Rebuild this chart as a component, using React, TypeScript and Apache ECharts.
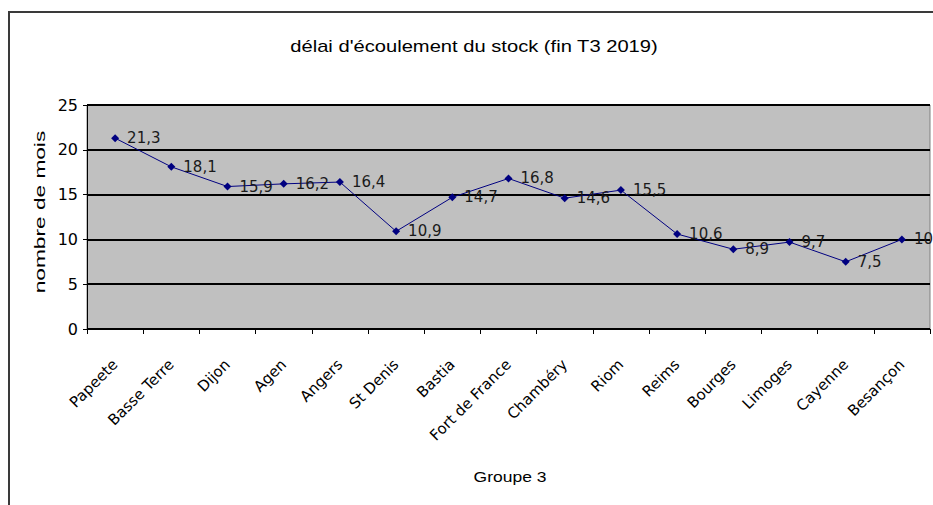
import React, { useEffect, useRef } from "react";
import * as echarts from "echarts";

const titleText = "délai d'écoulement du stock (fin T3 2019)";
const xAxisTitle = "Groupe 3";
const yAxisTitle = "nombre de mois";
const categories = [
  "Papeete", "Basse Terre", "Dijon", "Agen", "Angers", "St Denis", "Bastia",
  "Fort de France", "Chambéry", "Riom", "Reims", "Bourges", "Limoges", "Cayenne", "Besançon",
];
const values = [21.3, 18.1, 15.9, 16.2, 16.4, 10.9, 14.7, 16.8, 14.6, 15.5, 10.6, 8.9, 9.7, 7.5, 10];
const yTicks = [0, 5, 10, 15, 20, 25];

const FONT = "'Liberation Sans', Arial, sans-serif";
const WIDE = "'DejaVu Sans', sans-serif";

export default function App() {
  const ref = useRef<HTMLDivElement>(null);
  useEffect(() => {
    if (!ref.current) return;
    const chart = echarts.init(ref.current, null, { renderer: "svg" });
    chart.setOption({
      animation: false,
      backgroundColor: "#ffffff",
      textStyle: { fontFamily: WIDE },
      grid: { left: 87, right: 3, top: 105, bottom: 176, show: true, backgroundColor: "#c0c0c0", borderColor: "#808080", borderWidth: 1 },
      graphic: [
        { type: "rect", shape: { x: 9, y: 12, width: 960, height: 520 }, style: { fill: "none", stroke: "#3a3a3a", lineWidth: 2 }, silent: true },
        { type: "text", x: 474, y: 47, scaleX: 1.26, style: { text: titleText, font: `16px ${FONT}`, fill: "#000", textAlign: "center", textVerticalAlign: "middle" } },
        { type: "text", x: 510, y: 477, scaleX: 1.25, style: { text: xAxisTitle, font: `14px ${FONT}`, fill: "#000", textAlign: "center", textVerticalAlign: "middle" } },
        { type: "text", x: 40, y: 212, rotation: Math.PI / 2, scaleX: 1.62, style: { text: yAxisTitle, font: `14px ${FONT}`, fill: "#000", textAlign: "center", textVerticalAlign: "middle" } },
      ],
      xAxis: {
        type: "category",
        data: categories,
        boundaryGap: true,
        axisLine: { show: true, lineStyle: { color: "#000", width: 1 } },
        axisTick: { show: true, length: 5, lineStyle: { color: "#000" } },
        axisLabel: { rotate: 45, fontSize: 15, color: "#000", margin: 33, interval: 0, fontFamily: WIDE },
        splitLine: { show: false },
      },
      yAxis: {
        type: "value",
        min: yTicks[0],
        max: yTicks[yTicks.length - 1],
        interval: 5,
        axisLine: { show: true, lineStyle: { color: "#000", width: 1 } },
        axisTick: { show: true, length: 4, lineStyle: { color: "#000" } },
        axisLabel: { fontSize: 16, color: "#000", margin: 9, fontFamily: WIDE },
        splitLine: { show: true, lineStyle: { color: "#000", width: 2 } },
      },
      series: [
        {
          type: "line",
          data: values,
          symbol: "diamond",
          symbolSize: 8,
          lineStyle: { color: "#000080", width: 1 },
          itemStyle: { color: "#000080" },
          label: {
            show: true,
            position: "right",
            distance: 8,
            fontSize: 15,
            color: "#1a1a1a",
            fontFamily: WIDE,
            formatter: (p: any) => String(p.value).replace(".", ","),
          },
        },
      ],
    });
    return () => chart.dispose();
  }, []);
  return <div ref={ref} style={{ position: "fixed", left: 0, top: 0, width: 933, height: 505 }} />;
}
